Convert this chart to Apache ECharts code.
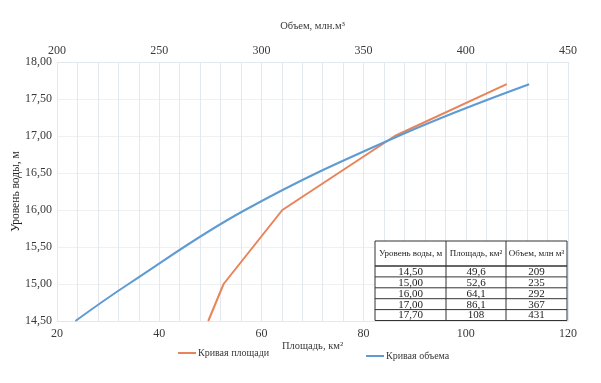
<!DOCTYPE html>
<html><head><meta charset="utf-8">
<script src="https://cdn.jsdelivr.net/npm/echarts@6/dist/echarts.min.js"></script>
<style>html,body{margin:0;padding:0;background:#fff}#c{width:601px;height:383px}</style>
</head><body><div id="c"></div>
<script>
// Data
const levels = [14.5, 15.0, 16.0, 17.0, 17.7];
const areas = [49.6, 52.6, 64.1, 86.1, 108];
const volumes = [209, 235, 292, 367, 431];
const levelLabels = ['14,50', '15,00', '16,00', '17,00', '17,70'];
const areaLabels = ['49,6', '52,6', '64,1', '86,1', '108'];
const volumeLabels = ['209', '235', '292', '367', '431'];
const tableHeaders = ['Уровень воды, м', 'Площадь, км²', 'Объем, млн м³'];
const seriesNames = ['Кривая площади', 'Кривая объема'];
const axisNames = { area: 'Площадь, км²', volume: 'Объем, млн.м³', level: 'Уровень воды, м' };

const FONT = '"Liberation Serif", "Times New Roman", serif';
const GRID = '#e3e8ee';
const TXT = '#3a3a3a';

const chart = echarts.init(document.getElementById('c'), null, { renderer: 'canvas' });

// table graphics
const colX = [375, 446, 506, 567];
const tTop = 241, hdrBot = 266, rowH = 10.9;
const g = [];
const tBot = hdrBot + rowH * levels.length;
g.push({ type: 'rect', shape: { x: colX[0], y: tTop, width: colX[3] - colX[0], height: tBot - tTop }, style: { fill: '#fff', stroke: '#333', lineWidth: 1 }, z: 100 });
for (let i = 1; i < 3; i++) g.push({ type: 'line', shape: { x1: colX[i], y1: tTop, x2: colX[i], y2: tBot }, style: { stroke: '#333', lineWidth: 1 }, z: 101 });
for (let r = 0; r < levels.length; r++) {
  const y = hdrBot + rowH * r;
  g.push({ type: 'line', shape: { x1: colX[0], y1: y, x2: colX[3], y2: y }, style: { stroke: '#333', lineWidth: r === 0 ? 1.5 : 1 }, z: 101 });
}
tableHeaders.forEach((h, i) => {
  g.push({ type: 'text', x: (colX[i] + colX[i + 1]) / 2, y: (tTop + hdrBot) / 2, style: { text: h, font: '9px ' + FONT, fill: '#222', align: 'center', verticalAlign: 'middle' }, z: 102 });
});
const cols = [levelLabels, areaLabels, volumeLabels];
cols.forEach((col, i) => {
  col.forEach((v, r) => {
    g.push({ type: 'text', x: (colX[i] + colX[i + 1]) / 2, y: hdrBot + rowH * r + rowH / 2 + 0.5, style: { text: v, font: '11px ' + FONT, fill: '#222', align: 'center', verticalAlign: 'middle' }, z: 102 });
  });
});

const legendIcon = 'path://M0,0 L18,0 L18,2 L0,2 Z';
const option = {
  animation: false,
  backgroundColor: '#fff',
  textStyle: { fontFamily: FONT },
  grid: { left: 57, right: 33, top: 62, bottom: 62, containLabel: false, outerBoundsMode: 'none' },
  legend: [
    { data: [seriesNames[0]], left: 173, top: 343, icon: legendIcon, itemWidth: 18, itemHeight: 2, itemGap: 2, textStyle: { fontFamily: FONT, fontSize: 10, color: TXT, padding: [0, 0, 0, -3] } },
    { data: [seriesNames[1]], left: 361, top: 346, icon: legendIcon, itemWidth: 18, itemHeight: 2, itemGap: 2, textStyle: { fontFamily: FONT, fontSize: 10, color: TXT, padding: [0, 0, 0, -3] } }
  ],
  xAxis: [
    {
      type: 'value', position: 'bottom', min: 20, max: 120, interval: 20,
      name: axisNames.area, nameLocation: 'middle', nameGap: 20, nameMoveOverlap: false,
      nameTextStyle: { fontFamily: FONT, fontSize: 10.5, color: TXT },
      axisLine: { show: true, lineStyle: { color: GRID } }, axisTick: { show: false },
      axisLabel: { fontFamily: FONT, fontSize: 12, color: TXT, margin: 7 },
      splitLine: { show: false }
    },
    {
      type: 'value', position: 'top', min: 200, max: 450, interval: 50,
      name: axisNames.volume, nameLocation: 'middle', nameGap: 30, nameMoveOverlap: false,
      nameTextStyle: { fontFamily: FONT, fontSize: 10.5, color: TXT },
      axisLine: { show: true, lineStyle: { color: GRID } }, axisTick: { show: false },
      axisLabel: { fontFamily: FONT, fontSize: 12, color: TXT, margin: 5 },
      splitLine: { show: true, lineStyle: { color: GRID, width: 1 } },
      minorTick: { show: false, splitNumber: 5 },
      minorSplitLine: { show: true, lineStyle: { color: GRID, width: 1 } }
    }
  ],
  yAxis: {
    type: 'value', min: 14.5, max: 18, interval: 0.5,
    name: axisNames.level, nameLocation: 'middle', nameGap: 35, nameMoveOverlap: false,
    nameTextStyle: { fontFamily: FONT, fontSize: 11.5, color: '#222' },
    axisLine: { show: false }, axisTick: { show: false },
    axisLabel: { fontFamily: FONT, fontSize: 12, color: TXT, margin: 5, formatter: v => v.toFixed(2).replace('.', ',') },
    splitLine: { show: true, lineStyle: { color: '#eef1f4', width: 1 } }
  },
  series: [
    {
      name: seriesNames[0], type: 'line', xAxisIndex: 0, yAxisIndex: 0,
      data: areas.map((a, i) => [a, levels[i]]), showSymbol: false, symbol: 'none',
      lineStyle: { color: '#e8845a', width: 2 }, itemStyle: { color: '#e8845a' }, z: 3
    },
    {
      name: seriesNames[1], type: 'line', xAxisIndex: 1, yAxisIndex: 0, smooth: 0.4,
      data: volumes.map((v, i) => [v, levels[i]]), showSymbol: false, symbol: 'none',
      lineStyle: { color: '#5f9bd3', width: 2 }, itemStyle: { color: '#5f9bd3' }, z: 4
    }
  ],
  graphic: g
};
chart.setOption(option);
</script></body></html>
